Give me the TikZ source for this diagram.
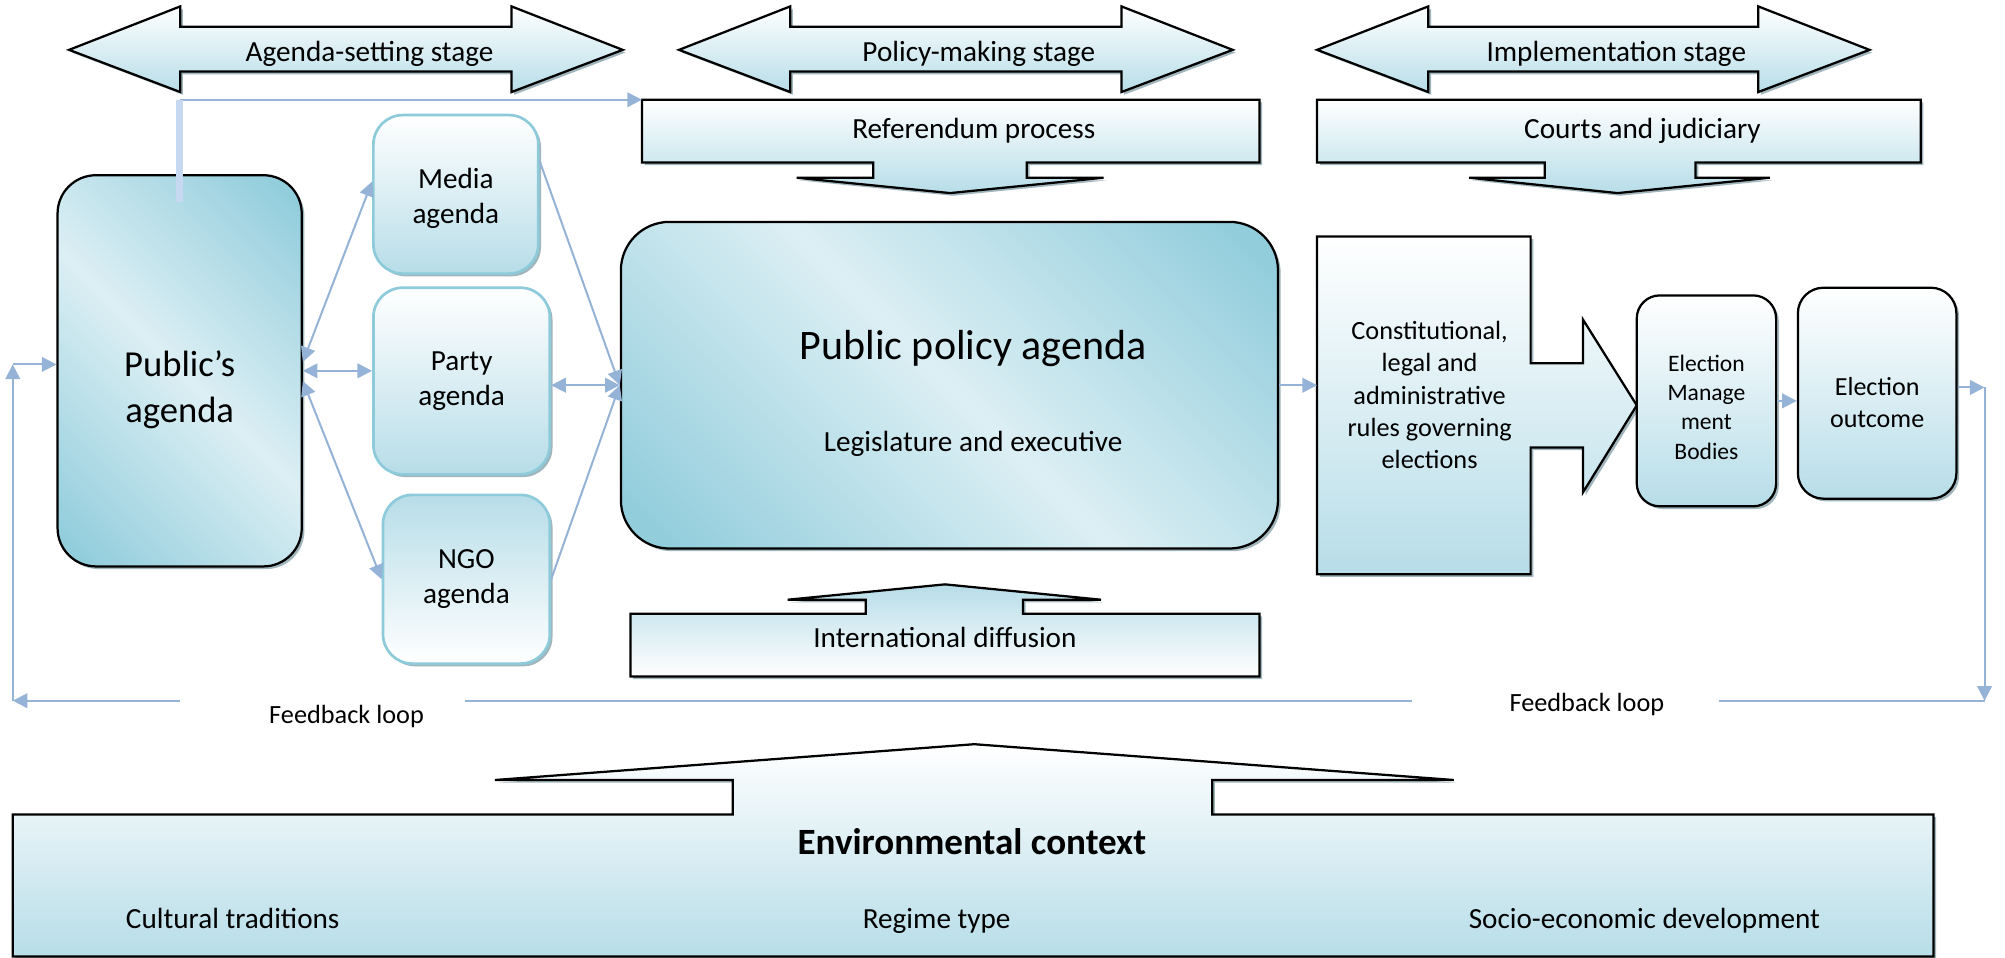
\documentclass[tikz,border=0pt]{standalone}
\usepackage{fontspec}
\setmainfont{Carlito}
\usetikzlibrary{arrows.meta,shadows,calc}

\definecolor{aqualight}{HTML}{B7DDE8}
\definecolor{aquadark}{HTML}{92CDDC}
\definecolor{aquapale}{HTML}{DCEFF4}
\definecolor{aquaedge}{HTML}{8ECBDA}
\definecolor{linkblue}{HTML}{95B3D7}
\definecolor{barblue}{HTML}{C6D9F1}
\definecolor{shadowgrey}{HTML}{6F8E98}

\pgfdeclareverticalshading{aquaband}{100bp}{color(0bp)=(aquadark); color(18bp)=(aquadark); color(50bp)=(aquapale); color(82bp)=(aquadark); color(100bp)=(aquadark)}

\tikzset{
  boxshadow/.style={drop shadow={shadow xshift=1.2pt, shadow yshift=-1.2pt, fill=shadowgrey, opacity=0.65}},
  bandbox/.style={draw, line width=1pt, shading=aquaband, shading angle=-45, boxshadow, inner sep=0pt},
  whitebox/.style={draw, line width=1pt, top color=white, bottom color=aqualight, boxshadow, inner sep=0pt},
  agendabox/.style={draw=aquaedge, line width=1.2pt, rounded corners=0.46cm, boxshadow, inner sep=0pt, align=center, font=\fontsize{13}{15.6}\selectfont},
  link/.style={draw=linkblue, line width=0.9pt},
  onehead/.style={-{Triangle[length=6.5pt,width=6.5pt]}},
  twoheads/.style={{Triangle[length=6.5pt,width=6.5pt]}-{Triangle[length=6.5pt,width=6.5pt]}},
  plaintext/.style={font=\fontsize{13}{15.6}\selectfont, inner sep=0pt, anchor=base},
}

\begin{document}
\begin{tikzpicture}[x=0.02cm, y=-0.02cm]
\useasboundingbox (0,0) rectangle (1568,749);

% stage arrows
\path[whitebox] (54,39) -- (141,5) -- (141,21) -- (400,21) -- (400,5) -- (487,39) -- (400,72) -- (400,56) -- (141,56) -- (141,72) -- cycle;
\node[plaintext] (agendastage) at (289,48) {Agenda-setting stage};
\path[whitebox] (531,39) -- (618,5) -- (618,21) -- (877,21) -- (877,5) -- (964,39) -- (877,72) -- (877,56) -- (618,56) -- (618,72) -- cycle;
\node[plaintext] (policystage) at (765.5,48) {Policy-making stage};
\path[whitebox] (1030,39) -- (1117,5) -- (1117,21) -- (1375,21) -- (1375,5) -- (1462,39) -- (1375,72) -- (1375,56) -- (1117,56) -- (1117,72) -- cycle;
\node[plaintext] (implstage) at (1264,48) {Implementation stage};

% referendum and courts
\path[whitebox] (502,78) -- (985,78) -- (985,127) -- (803,127) -- (803,139) -- (863,139) -- (743,151) -- (623,139) -- (683,139) -- (683,127) -- (502,127) -- cycle;
\node[plaintext] (referendum) at (761.5,108) {Referendum process};
\coordinate (refNW) at (502,78);
\path[whitebox] (1030,78) -- (1502,78) -- (1502,127) -- (1326,127) -- (1326,139) -- (1384,139) -- (1265,151) -- (1149,139) -- (1208,139) -- (1208,127) -- (1030,127) -- cycle;
\node[plaintext] (courts) at (1284.5,108) {Courts and judiciary};

% agendas
\node[bandbox, rounded corners=0.6cm, minimum width=3.82cm, minimum height=6.12cm] (pub) at (140.5,290) {};
\node[align=center, font=\fontsize{16.3}{20.3}\selectfont, inner sep=0pt] (pubtext) at (140.5,305) {Public’s\\agenda};
\node[agendabox, top color=white, bottom color=aqualight, minimum width=2.58cm, minimum height=2.48cm] (media) at (356.5,152) {};
\node[align=center, font=\fontsize{13}{15.6}\selectfont, inner sep=0pt] (mediatext) at (356.5,155) {Media\\agenda};
\node[agendabox, top color=white, bottom color=aqualight, minimum width=2.76cm, minimum height=2.92cm] (party) at (361,298) {Party\\agenda};
\node[agendabox, top color=aqualight, bottom color=white, minimum width=2.61cm, minimum height=2.64cm] (ngo) at (364.75,453) {NGO\\agenda};

\node[bandbox, rounded corners=0.76cm, minimum width=10.28cm, minimum height=5.11cm] (policy) at (742.5,301.25) {};
\node[plaintext, font=\fontsize{18.7}{22}\selectfont] (policytitle) at (761,281.5) {Public policy agenda};
\node[plaintext] (legis) at (761,353) {Legislature and executive};

% international diffusion
\path[whitebox, top color=aqualight, bottom color=white] (493,529) -- (493,480) -- (677,480) -- (677,469) -- (616,469) -- (739,457) -- (861,469) -- (800,469) -- (800,480) -- (985,480) -- (985,529) -- cycle;
\node[plaintext] (intl) at (739,506) {International diffusion};

% rules and elections
\path[whitebox] (1030,185) -- (1197,185) -- (1197,284) -- (1238,284) -- (1238,250) -- (1280,317) -- (1238,385) -- (1238,350) -- (1197,350) -- (1197,449) -- (1030,449) -- cycle;
\node[align=center, font=\fontsize{11.7}{14.4}\selectfont, inner sep=0pt] (rules) at (1118,309) {Constitutional,\\legal and\\administrative\\rules governing\\elections};
\coordinate (rulesW) at (1030,303);
\node[whitebox, rounded corners=0.36cm, minimum width=2.18cm, minimum height=3.3cm] (emb) at (1334.5,313.5) {};
\node[align=center, font=\fontsize{10.5}{13}\selectfont, inner sep=0pt] (embtext) at (1334.5,318.5) {Election\\Manage\\ment\\Bodies};
\node[whitebox, rounded corners=0.4cm, minimum width=2.48cm, minimum height=3.3cm] (outcome) at (1468,307.5) {};
\node[align=center, font=\fontsize{11.6}{14.2}\selectfont, inner sep=0pt] (outcometext) at (1468,314.5) {Election\\outcome};

% environmental context
\path[whitebox] (10,637) -- (573,637) -- (573,610) -- (387,610) -- (762,582) -- (1137,610) -- (948,610) -- (948,637) -- (1512,637) -- (1512,748) -- (10,748) -- cycle;
\node[plaintext, font=\fontsize{16.5}{20}\selectfont\bfseries] (envtitle) at (760,668.6) {Environmental context};
\node[plaintext] (culture) at (182,726) {Cultural traditions};
\node[plaintext] (regime) at (732.5,726) {Regime type};
\node[plaintext] (socio) at (1286,726) {Socio-economic development};

% public to referendum
\draw[link, onehead] (pub.north |- refNW) -- (refNW);
\draw[barblue, line width=3.4pt] ($(pub.north)+(0,22)$) -- (pub.north |- refNW);

% links between agendas
\draw[link, twoheads] ($(pub.east)+(0,-7)$) -- ($(media.west)+(0,-10)$);
\draw[link, twoheads] (pub.east) -- (pub.east -| party.west);
\draw[link, twoheads] ($(pub.east)+(0,8)$) -- (ngo.west);
\draw[link, onehead] ($(media.east)+(0,-26)$) -- (policy.west);
\draw[link, twoheads] (party.east |- policy.west) -- (policy.west);
\draw[link, onehead] (ngo.east) -- (policy.west);
\draw[link, onehead] (policy.east) -- (rulesW |- policy.east);
\draw[link, onehead] (emb.east) -- (emb.east -| outcome.west);

% feedback loop
\coordinate (fbNE) at (1552,303);
\coordinate (fbSE) at (1552,548);
\coordinate (fbSW) at (10,548);
\coordinate (fbNW) at (10,285);
\coordinate (gapRa) at (1344,548);
\coordinate (gapRb) at (1104,548);
\coordinate (gapLa) at (364,548);
\coordinate (gapLb) at (141,548);
\node[plaintext, font=\fontsize{11.7}{14}\selectfont] (fbright) at (1241,556.6) {Feedback loop};
\node[plaintext, font=\fontsize{11.7}{14}\selectfont] (fbleft) at (271,566) {Feedback loop};
\draw[link, onehead] (outcome.east |- fbNE) -- (fbNE);
\draw[link, onehead] (fbNE) -- (fbSE);
\draw[link] (fbSE) -- (gapRa);
\draw[link] (gapRb) -- (gapLa);
\draw[link, onehead] (gapLb) -- (fbSW);
\draw[link, onehead] (fbSW) -- (fbNW);
\draw[link, onehead] (fbNW) -- (fbNW -| pub.west);
\end{tikzpicture}
\end{document}
